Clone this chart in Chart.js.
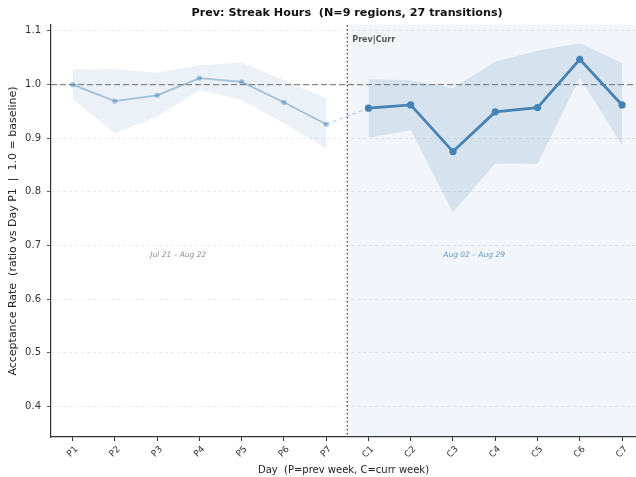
<!DOCTYPE html>
<html>
<head>
<meta charset="utf-8">
<script src="https://cdn.jsdelivr.net/npm/chart.js@4.4.1/dist/chart.umd.min.js"></script>
<style>
  html, body { margin: 0; padding: 0; background: #fff; overflow: hidden; }
  #wrap { width: 640px; height: 477px; }
</style>
</head>
<body>
<div id="wrap"><canvas id="chart" width="640" height="477"></canvas></div>
<script>
// Data
const dayLabels = ['P1', 'P2', 'P3', 'P4', 'P5', 'P6', 'P7', 'C1', 'C2', 'C3', 'C4', 'C5', 'C6', 'C7'];
const yTicks = [0.4, 0.5, 0.6, 0.7, 0.8, 0.9, 1.0, 1.1];

const prevMean  = [1.000, 0.969, 0.980, 1.012, 1.005, 0.967, 0.926];
const prevUpper = [1.028, 1.029, 1.022, 1.036, 1.041, 1.008, 0.974];
const prevLower = [0.973, 0.909, 0.940, 0.990, 0.971, 0.928, 0.881];

const currMean  = [0.956, 0.962, 0.875, 0.949, 0.957, 1.047, 0.962];
const currUpper = [1.010, 1.008, 0.993, 1.043, 1.063, 1.077, 1.040];
const currLower = [0.901, 0.915, 0.762, 0.853, 0.852, 1.013, 0.887];

const prevRange = 'Jul 21 – Aug 22';
const currRange = 'Aug 02 – Aug 29';
const titleText = 'Prev: Streak Hours  (N=9 regions, 27 transitions)';

const BLUE = '70, 130, 180';
const FONT = "'DejaVu Sans', sans-serif";

// x positions: prev days 0..6, curr days 7..13
const toPts = (arr, offset) => arr.map((v, i) => ({ x: i + offset, y: v }));
const splitX = prevMean.length - 0.5;

// Background shading, divider, baseline, text
const decor = {
    id: 'decor',
    beforeDatasetsDraw(chart) {
        const { ctx, chartArea: a, scales: { x, y } } = chart;
        const xs = x.getPixelForValue(splitX);
        ctx.save();
        ctx.fillStyle = `rgba(${BLUE}, 0.07)`;
        ctx.fillRect(xs, a.top, a.right - xs, a.bottom - a.top);

        // baseline at 1.0
        const yb = y.getPixelForValue(1.0);
        ctx.strokeStyle = 'rgba(100,100,100,0.75)';
        ctx.lineWidth = 1.2;
        ctx.setLineDash([6, 3]);
        ctx.beginPath();
        ctx.moveTo(a.left, yb);
        ctx.lineTo(a.right, yb);
        ctx.stroke();
        ctx.restore();
    },
    afterDatasetsDraw(chart) {
        const { ctx, chartArea: a, scales: { x, y } } = chart;
        const xs = x.getPixelForValue(splitX);
        ctx.save();
        // dotted divider
        ctx.strokeStyle = '#444';
        ctx.lineWidth = 1.3;
        ctx.setLineDash([1.5, 2.5]);
        ctx.beginPath();
        ctx.moveTo(xs, a.top);
        ctx.lineTo(xs, a.bottom);
        ctx.stroke();
        ctx.setLineDash([]);

        ctx.fillStyle = '#555';
        ctx.font = `bold 8px ${FONT}`;
        ctx.textAlign = 'left';
        ctx.textBaseline = 'middle';
        ctx.fillText('Prev|Curr', xs + 5, a.top + 15);

        ctx.font = `italic 7.5px ${FONT}`;
        ctx.textAlign = 'center';
        ctx.fillStyle = '#8a8a8a';
        ctx.fillText(prevRange, x.getPixelForValue((prevMean.length - 1) / 2 - 0.5), y.getPixelForValue(0.683));
        ctx.fillStyle = `rgba(${BLUE}, 0.85)`;
        ctx.fillText(currRange, x.getPixelForValue(prevMean.length + (currMean.length - 1) / 2 - 0.5), y.getPixelForValue(0.683));

        // title centred over the axes
        ctx.fillStyle = '#111';
        ctx.font = `bold 11.2px ${FONT}`;
        ctx.fillText(titleText, (a.left + x.getPixelForValue(13.5)) / 2, 13);
        ctx.restore();
    }
};

const ctx = document.getElementById('chart').getContext('2d');

new Chart(ctx, {
    type: 'line',
    data: {
        datasets: [
            {   // prev band
                data: toPts(prevUpper, 0),
                borderWidth: 0, pointRadius: 0, fill: false
            },
            {
                data: toPts(prevLower, 0),
                borderWidth: 0, pointRadius: 0,
                fill: '-1', backgroundColor: `rgba(${BLUE}, 0.11)`
            },
            {   // curr band
                data: toPts(currUpper, 7),
                borderWidth: 0, pointRadius: 0, fill: false
            },
            {
                data: toPts(currLower, 7),
                borderWidth: 0, pointRadius: 0,
                fill: '-1', backgroundColor: `rgba(${BLUE}, 0.17)`
            },
            {   // P7 -> C1 connector
                data: [{ x: 6, y: prevMean[6] }, { x: 7, y: currMean[0] }],
                borderColor: `rgba(${BLUE}, 0.35)`,
                borderWidth: 1.2,
                borderDash: [4, 3],
                pointRadius: 0, fill: false
            },
            {   // prev week mean
                data: toPts(prevMean, 0),
                borderColor: `rgba(${BLUE}, 0.45)`,
                backgroundColor: `rgba(${BLUE}, 0.45)`,
                borderWidth: 1.8,
                pointRadius: 2.6,
                pointBorderWidth: 0,
                fill: false
            },
            {   // curr week mean
                data: toPts(currMean, 7),
                borderColor: `rgb(${BLUE})`,
                backgroundColor: `rgb(${BLUE})`,
                borderWidth: 2.8,
                pointRadius: 3.6,
                pointBorderWidth: 0,
                fill: false
            }
        ]
    },
    options: {
        responsive: false,
        animation: false,
        layout: { padding: { top: 25, right: 0, bottom: 0, left: 0 } },
        plugins: {
            legend: { display: false },
            tooltip: { enabled: false },
            title: { display: false }
        },
        scales: {
            x: {
                type: 'linear',
                min: -0.51,
                max: 13.33,
                afterBuildTicks: (s) => { s.ticks = dayLabels.map((_, i) => ({ value: i })); },
                afterFit: (s) => { s.height = 40; s.paddingRight = 0; s.paddingLeft = 0; },
                grid: { drawOnChartArea: false, drawTicks: true, tickLength: 4, tickColor: '#333' },
                border: { color: '#333', width: 1.2 },
                ticks: {
                    autoSkip: false,
                    minRotation: 45, maxRotation: 45,
                    labelOffset: 4,
                    padding: 3,
                    color: '#333',
                    font: { family: FONT, size: 9 },
                    callback: (v) => dayLabels[v]
                },
                title: {
                    display: true,
                    text: 'Day  (P=prev week, C=curr week)',
                    color: '#222',
                    font: { family: FONT, size: 10 },
                    padding: { top: 2, bottom: 1 }
                }
            },
            y: {
                min: 0.343,
                max: 1.111,
                afterBuildTicks: (s) => { s.ticks = yTicks.map(v => ({ value: v })); },
                afterFit: (s) => { s.width = 51; s.paddingTop = 0; s.paddingBottom = 0; },
                grid: { color: '#e4e4e4', lineWidth: 0.8, tickLength: 4, tickColor: '#333' },
                border: { color: '#333', width: 1.2, dash: [3, 3] },
                ticks: {
                    padding: 6,
                    color: '#333',
                    font: { family: FONT, size: 10 },
                    callback: (v) => v.toFixed(1)
                },
                title: {
                    display: true,
                    text: 'Acceptance Rate  (ratio vs Day P1  |  1.0 = baseline)',
                    color: '#222',
                    font: { family: FONT, size: 11 },
                    padding: { top: 7, bottom: 2 }
                }
            }
        }
    },
    plugins: [decor]
});
</script>
</body>
</html>
